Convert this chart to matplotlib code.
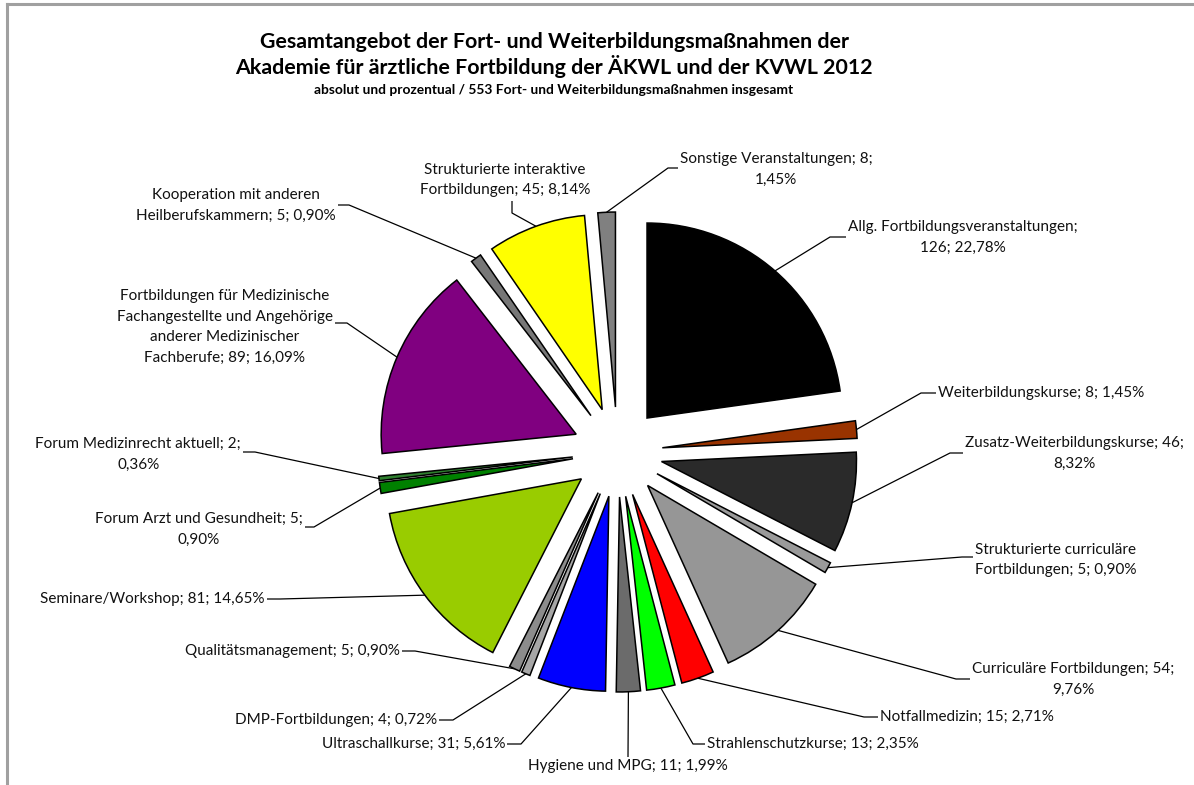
import math
import textwrap
import matplotlib
matplotlib.use("Agg")
import matplotlib.pyplot as plt

# ---------------- data ----------------
categories = [
    "Allg. Fortbildungsveranstaltungen",
    "Weiterbildungskurse",
    "Zusatz-Weiterbildungskurse",
    "Strukturierte curriculäre Fortbildungen",
    "Curriculäre Fortbildungen",
    "Notfallmedizin",
    "Strahlenschutzkurse",
    "Hygiene und MPG",
    "Ultraschallkurse",
    "DMP-Fortbildungen",
    "Qualitätsmanagement",
    "Seminare/Workshop",
    "Forum Arzt und Gesundheit",
    "Forum Medizinrecht aktuell",
    "Fortbildungen für Medizinische Fachangestellte und Angehörige anderer Medizinischer Fachberufe",
    "Kooperation mit anderen Heilberufskammern",
    "Strukturierte interaktive Fortbildungen",
    "Sonstige Veranstaltungen",
]
values = [126, 8, 46, 5, 54, 15, 13, 11, 31, 4, 5, 81, 5, 2, 89, 5, 45, 8]
colors = ["#000000", "#993300", "#2a2a2a", "#9a9a9a", "#969696", "#ff0000",
          "#00ff00", "#6b6b6b", "#0000ff", "#a6a6a6", "#8c8c8c", "#99cc00",
          "#008000", "#2f7f2f", "#800080", "#777777", "#ffff00", "#808080"]

title_lines = ["Gesamtangebot der Fort- und Weiterbildungsmaßnahmen der",
               "Akademie für ärztliche Fortbildung der ÄKWL und der KVWL 2012"]
subtitle = "absolut und prozentual / 553 Fort- und Weiterbildungsmaßnahmen insgesamt"

# ---------------- layout (pixel coords, y from top) ----------------
W, H = 1194, 785
CX, CY, R, EXPL = 617.5, 452, 195, 45
# wrap width, text x, text y(middle), ha, elbow, stub end
layout = [
    (34, 848, 237, "left", (830, 237), (846, 237)),
    (100, 938, 393, "left", (921, 393), (936, 393)),
    (31, 965, 453, "left", (950, 453), (963, 453)),
    (25, 975, 560, "left", (962, 557), (973, 557)),
    (30, 972, 679, "left", (956, 679), (970, 679)),
    (100, 880, 717, "left", (864, 717), (878, 717)),
    (100, 707, 744, "left", (693, 744), (705, 744)),
    (100, 628, 766, "center", None, (628, 757)),
    (100, 505, 744, "right", (521, 744), (507, 744)),
    (100, 437, 720, "right", (453, 720), (439, 720)),
    (100, 400, 651, "right", (415, 651), (402, 651)),
    (100, 265, 599, "right", (280, 599), (267, 599)),
    (29, 303, 529, "right", (314, 527), (305, 527)),
    (30, 241, 454, "right", (255, 452), (243, 452)),
    (30, 333, 327, "right", (347, 323), (335, 323)),
    (27, 336, 205, "right", (349, 205), (338, 205)),
    (25, 505, 180, "center", (512, 213), (512, 201)),
    (28, 680, 169, "left", (668, 168), (678, 168)),
]

FONT = ["Lato", "DejaVu Sans"]
plt.rcParams["font.family"] = FONT


def Y(y):
    return H - y


fig = plt.figure(figsize=(W / 100, H / 100), dpi=100)
ax = fig.add_axes([0, 0, 1, 1])

wedges, _ = ax.pie(values, colors=colors, explode=[EXPL] * len(values),
                   startangle=90, counterclock=False, radius=R,
                   center=(CX, Y(CY)),
                   wedgeprops=dict(edgecolor="black", linewidth=1.1))
ax.set_xlim(0, W)
ax.set_ylim(0, H)
ax.set_aspect("equal")
ax.axis("off")

total = sum(values)
for w, name, v, lay in zip(wedges, categories, values, layout):
    width, tx, ty, ha, elbow, end = lay
    pct = f"{100 * v / total:.2f}".replace(".", ",") + "%"
    txt = textwrap.fill(f"{name}; {v}; {pct}", width=width,
                        break_on_hyphens=False)
    ax.text(tx, Y(ty), txt, ha=ha, va="center", multialignment="center",
            fontsize=11, linespacing=1.62, color="#111111")
    th = math.radians((w.theta1 + w.theta2) / 2)
    sx = w.center[0] + w.r * math.cos(th)
    sy = w.center[1] + w.r * math.sin(th)
    pts = [(sx, sy)]
    if elbow is not None:
        pts.append((elbow[0], Y(elbow[1])))
    pts.append((end[0], Y(end[1])))
    ax.plot([p[0] for p in pts], [p[1] for p in pts], color="black",
            linewidth=0.9, solid_capstyle="butt")

# titles
ax.text(554, Y(42), title_lines[0], ha="center", va="center",
        fontsize=15.4, fontweight="bold")
ax.text(554, Y(67), title_lines[1], ha="center", va="center",
        fontsize=15.4, fontweight="bold")
ax.text(554, Y(90), subtitle, ha="center", va="center",
        fontsize=9.9, fontweight="bold")

# chart area border (top and left visible)
ax.plot([7, W], [Y(4), Y(4)], color="#a0a0a0", linewidth=2.2)
ax.plot([7, 7], [Y(4), 0], color="#a0a0a0", linewidth=2.2)

fig.savefig("out.png", dpi=100, facecolor="white")
